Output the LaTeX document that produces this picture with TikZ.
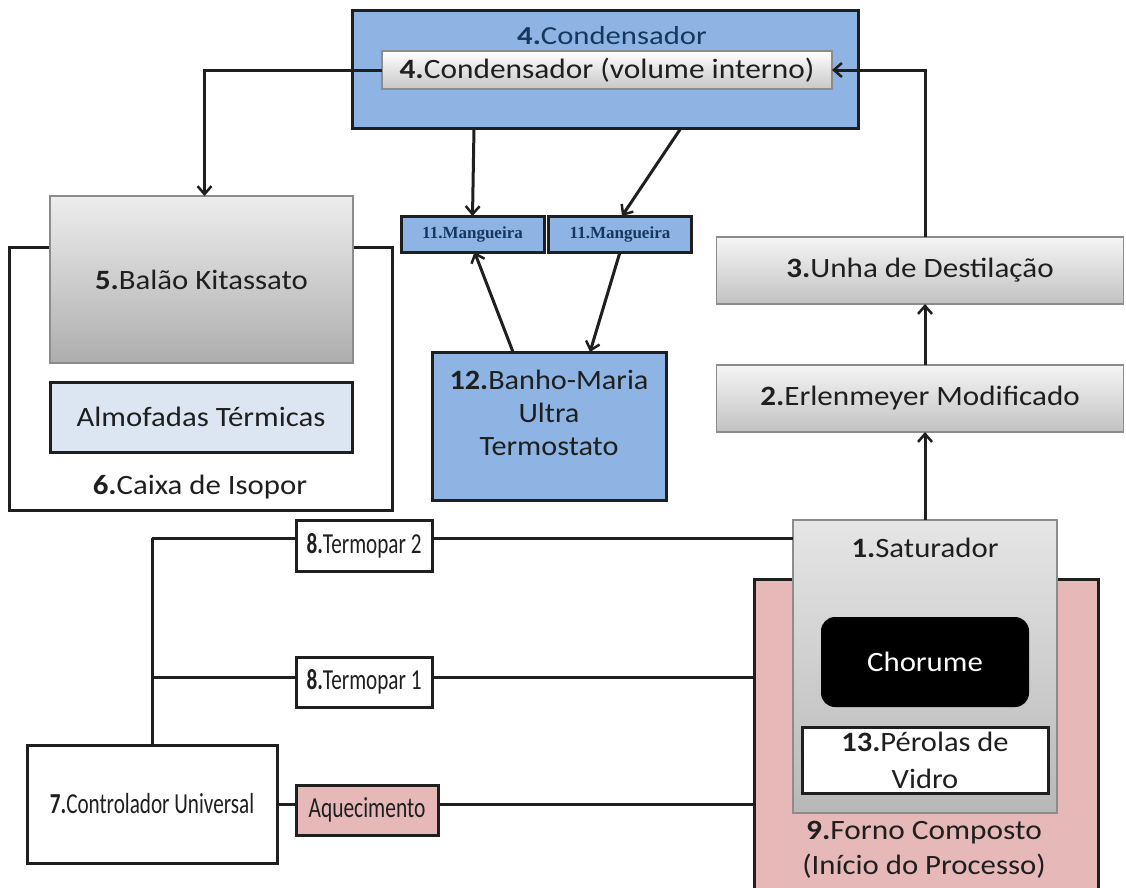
\documentclass[tikz,border=0pt]{standalone}
\usepackage{fontspec}
\setmainfont{Carlito}
\newfontfamily\mangfont{Liberation Serif}
\usetikzlibrary{arrows.meta,calc}
\newcommand{\sx}[2]{\scalebox{#1}[1]{#2}}
\definecolor{blueF}{RGB}{141,180,226}
\definecolor{pinkF}{RGB}{230,185,184}
\definecolor{almF}{RGB}{220,230,242}
\definecolor{navy}{RGB}{23,55,94}
\begin{document}
\begin{tikzpicture}[x=1pt,y=-1pt,
  every node/.style={inner sep=0pt, outer sep=0pt},
  txt/.style={font=\fontsize{28}{33}\selectfont, text=black!88, align=center},
  ctxt/.style={font=\fontsize{29}{33}\selectfont, text=black!88, align=center},
  bx/.style={draw=black!88, line width=3pt, rectangle},
  graybx/.style={draw=black!45, line width=1.4pt, rectangle},
  mang/.style={bx, fill=blueF, minimum width=143, minimum height=36,
     font=\mangfont\bfseries\fontsize{17}{20}\selectfont, text=navy},
  ln/.style={line width=3pt, draw=black!88},
  arr/.style={ln, -{Straight Barb[length=8pt,width=14pt,line width=2.5pt]}},
  ]
\useasboundingbox (0,0) rectangle (1126,887);
\clip (0,0) rectangle (1126,887);
\fill[white] (0,0) rectangle (1126,887);

% Condensador
\node[bx, fill=blueF, minimum width=506, minimum height=118] (cond) at (605,69) {};
\node[txt, text=navy] (condt) at (612,36) {\sx{1.18}{\fontsize{26}{30}\selectfont\textbf{4.}Condensador}};
\node[graybx, txt, top color=white, bottom color=black!22, minimum width=450, minimum height=38] (inner) at (607,70) {\sx{1.12}{\textbf{4.}Condensador (volume interno)}};

% Mangueiras
\node[mang] (m1) at (472.5,234) {11.Mangueira};
\node[mang] (m2) at (620,234) {11.Mangueira};

% Banho-Maria
\node[bx, fill=blueF, minimum width=234, minimum height=148] (banho) at (549,426) {};
\node[txt] (banhot) at (549,413) {\sx{1.08}{\textbf{12.}Banho-Maria}\\\sx{1.08}{Ultra}\\\sx{1.08}{Termostato}};

% Caixa de Isopor, Balao, Almofadas
\node[bx, minimum width=383, minimum height=263] (caixa) at (200.5,378.5) {};
\node[txt] (caixat) at (200,487) {\sx{1.1}{\textbf{6.}Caixa de Isopor}};
\node[graybx, txt, top color=black!7, bottom color=black!32, minimum width=303, minimum height=167] (balao) at (201.5,279.5) {\sx{1.1}{\textbf{5.}Balão Kitassato}};
\node[bx, txt, fill=almF, minimum width=302, minimum height=70] (almo) at (201,417) {\sx{1.1}{Almofadas Térmicas}};

% Right column
\node[graybx, txt, top color=black!4, bottom color=black!24, minimum width=407, minimum height=67] (unha) at (920,270.5) {\sx{1.11}{\textbf{3.}Unha de Destilação}};
\node[graybx, txt, top color=black!4, bottom color=black!24, minimum width=407, minimum height=67] (erl) at (920,398.5) {\sx{1.11}{\textbf{2.}Erlenmeyer Modificado}};

% Forno and Saturador
\node[bx, fill=pinkF, minimum width=344, minimum height=321] (forno) at (926,739.5) {};
\node[txt] (fornot) at (924,850) {\sx{1.12}{\textbf{9.}Forno Composto}\\[2pt]\sx{1.1}{(Início do Processo)}};
\node[graybx, top color=black!10, bottom color=black!28, minimum width=264, minimum height=293] (sat) at (925,666.5) {};
\node[txt] (satt) at (925,548) {\sx{1.1}{\textbf{1.}Saturador}};
\node[txt, fill=black, text=white, rounded corners=14pt, minimum width=208, minimum height=90] (chor) at (925,662) {\sx{1.1}{Chorume}};
\node[bx, fill=white, txt, font=\fontsize{28}{37}\selectfont, minimum width=246, minimum height=66] (per) at (925,760) {\sx{1.09}{\textbf{13.}Pérolas de}\\\sx{1.09}{Vidro}};

% Controller side
\node[bx, fill=white, ctxt, minimum width=136, minimum height=51] (t2) at (364,545.5) {\sx{0.73}{\textbf{8.}Termopar 2}};
\node[bx, fill=white, ctxt, minimum width=136, minimum height=50] (t1) at (364,682) {\sx{0.73}{\textbf{8.}Termopar 1}};
\node[bx, fill=white, ctxt, minimum width=250, minimum height=118] (ctrl) at (152,804) {\sx{0.73}{\textbf{7.}Controlador Universal}};
\node[bx, fill=pinkF, ctxt, minimum width=142, minimum height=50] (aq) at (367,810) {\sx{0.74}{Aquecimento}};

\coordinate (J2) at (152,538);
\coordinate (J1) at (152,677);

% Connectors
\draw[arr] (sat.north) -- (sat.north |- erl.south);
\draw[arr] (sat.north |- erl.north) -- (sat.north |- unha.south);
\draw[arr] (sat.north |- unha.north) |- (inner.east);
\draw[arr] (inner.west) -| ([xshift=3]balao.north);
\draw[arr] ([xshift=-131]cond.south) -- (m1.north);
\draw[arr] ([xshift=76]cond.south) -- ([xshift=2]m2.north);
\draw[arr] ([xshift=-36]banho.north) -- ([xshift=2]m1.south);
\draw[arr] (m2.south) -- ([xshift=41]banho.north);

\draw[ln] (ctrl.north) -- (J2);
\draw[ln] (J2) -- (J2 -| t2.west);
\draw[ln] (J2 -| t2.east) -- (J2 -| sat.west);
\draw[ln] (J1) -- (J1 -| t1.west);
\draw[ln] (J1 -| t1.east) -- (J1 -| forno.west);
\draw[ln] (ctrl.east) -- (ctrl.east -| aq.west);
\draw[ln] (ctrl.east -| aq.east) -- (ctrl.east -| forno.west);
\end{tikzpicture}
\end{document}
